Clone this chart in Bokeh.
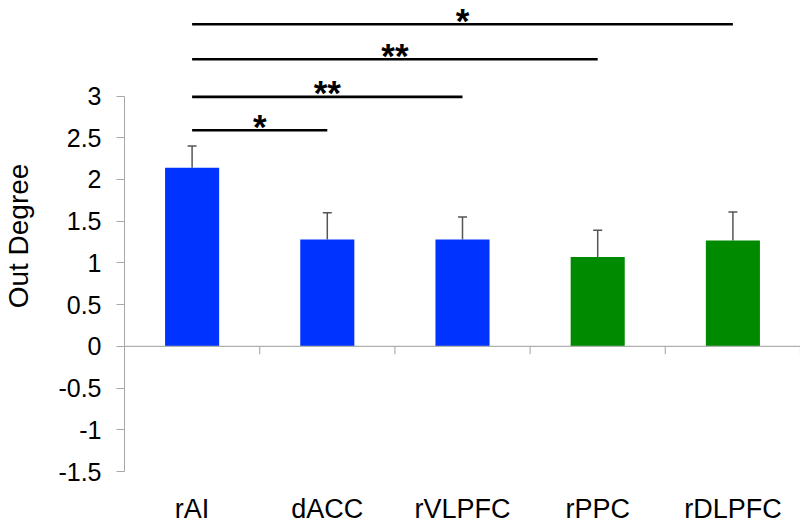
from bokeh.plotting import figure
from bokeh.models import (Range1d, FixedTicker, Span, Whisker, TeeHead, ColumnDataSource)
from bokeh.core.properties import value
from bokeh.embed import file_html
from bokeh.resources import INLINE
import math

# ---- data ----
categories = ["rAI", "dACC", "rVLPFC", "rPPC", "rDLPFC"]
means = [2.14, 1.28, 1.28, 1.07, 1.27]
upper_err = [2.40, 1.60, 1.55, 1.39, 1.61]
bar_colors = ["#0033FF", "#0033FF", "#0033FF", "#008A00", "#008A00"]

y_ticks = [-1.5, -1, -0.5, 0, 0.5, 1, 1.5, 2, 2.5, 3]
y_tick_labels = ["-1.5", "-1", "-0.5", "0", "0.5", "1", "1.5", "2", "2.5", "3"]

sig_from = "rAI"
sig_to = ["dACC", "rVLPFC", "rPPC", "rDLPFC"]
sig_height = [2.59, 2.99, 3.44, 3.86]
sig_text = ["*", "**", "**", "*"]

FONT = "Liberation Sans"

# positions of categories on a numeric axis
xc = [i + 0.5 for i in range(len(categories))]
idx = {c: i + 0.5 for i, c in enumerate(categories)}

p = figure(frame_width=676, frame_height=471,
           x_range=Range1d(0, len(categories)), y_range=Range1d(-1.5, 4.145),
           output_backend="svg", toolbar_location=None,
           min_border_left=120, min_border_right=4, min_border_top=0, min_border_bottom=0)
p.outline_line_color = None
p.xgrid.visible = False
p.ygrid.visible = False
p.background_fill_color = "white"
p.border_fill_color = "white"

# bars
src = ColumnDataSource(dict(x=xc, top=means, upper=upper_err, color=bar_colors))
p.vbar(x="x", top="top", bottom=0, width=0.4, color="color", line_color=None, source=src)

# error bars (upper only)
w = Whisker(source=src, base="x", upper="upper", lower="top",
            line_color="#555555", line_width=1.5,
            upper_head=TeeHead(size=9, line_color="#555555", line_width=1.5),
            lower_head=None)
p.add_layout(w)

# zero line and category boundary ticks
p.add_layout(Span(location=0, dimension="width", line_color="#b0b0b0", line_width=1.2))
bounds = [i + 1 for i in range(len(categories))]
p.ray(x=bounds, y=[0] * len(bounds), length=8, angle=-math.pi / 2,
      length_units="screen", line_color="#b0b0b0", line_width=1.2)

# significance lines
x0 = [idx[sig_from]] * len(sig_to)
x1 = [idx[t] for t in sig_to]
p.segment(x0=x0, y0=sig_height, x1=x1, y1=sig_height, line_color="black", line_width=2.6)
mid = [(a + b) / 2 for a, b in zip(x0, x1)]
p.text(x=mid, y=sig_height, text=sig_text, text_font=value(FONT), text_font_size="35px",
       text_font_style="bold", text_align="center", text_baseline="middle",
       y_offset=-4, text_color="black")

# y axis
ya = p.yaxis[0]
ya.bounds = (-1.5, 3)
ya.ticker = FixedTicker(ticks=y_ticks)
ya.major_label_overrides = {t: l for t, l in zip(y_ticks, y_tick_labels)}
ya.axis_line_color = "#a8a8a8"
ya.major_tick_line_color = "#a8a8a8"
ya.minor_tick_line_color = None
ya.major_tick_out = 8
ya.major_tick_in = 0
ya.major_label_standoff = 15
ya.major_label_text_font = FONT
ya.major_label_text_font_size = "25px"
ya.major_label_text_color = "black"
ya.axis_label = "Out Degree"
ya.axis_label_text_font = FONT
ya.axis_label_text_font_size = "28px"
ya.axis_label_text_font_style = "normal"
ya.axis_label_text_color = "black"
ya.axis_label_standoff = 21

# x axis: labels only
xa = p.xaxis[0]
xa.ticker = FixedTicker(ticks=xc)
xa.major_label_overrides = {x: c for x, c in zip(xc, categories)}
xa.axis_line_color = None
xa.major_tick_line_color = None
xa.minor_tick_line_color = None
xa.major_tick_out = 0
xa.major_tick_in = 0
xa.major_label_standoff = 22
xa.major_label_text_font = FONT
xa.major_label_text_font_size = "27px"
xa.major_label_text_color = "black"

open("out.html", "w").write(file_html(p, INLINE))
